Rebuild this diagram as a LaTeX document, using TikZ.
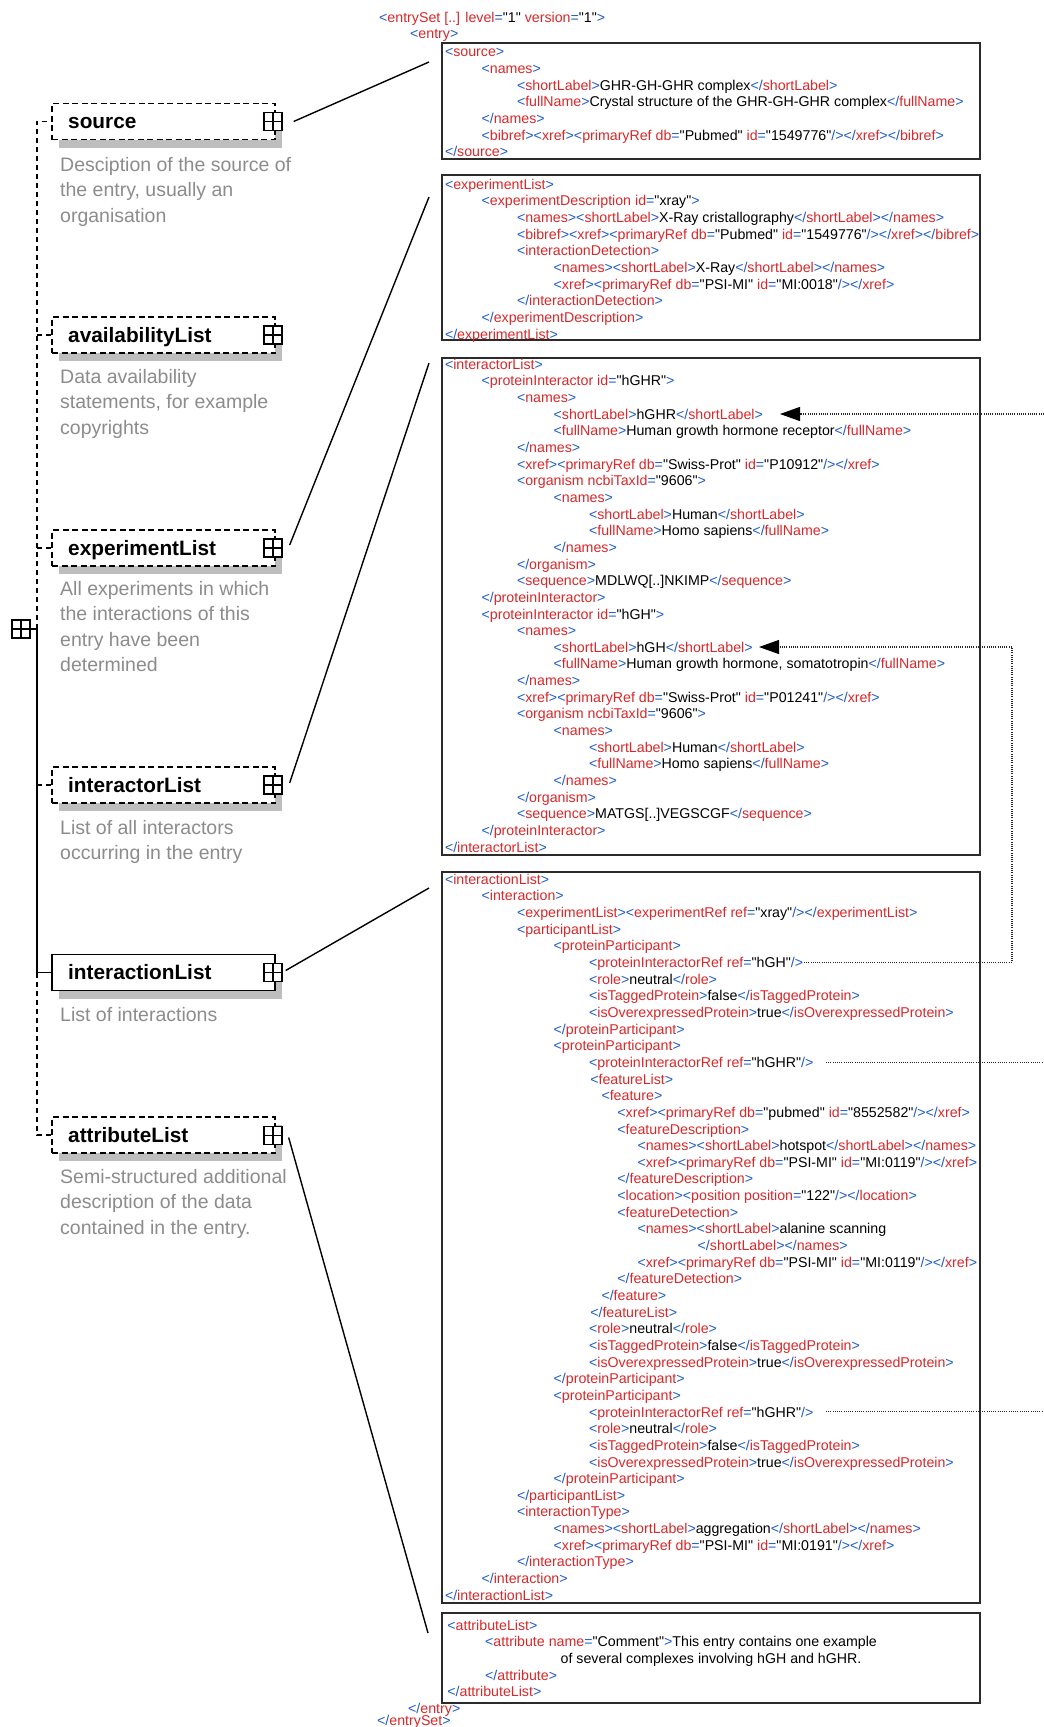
\documentclass[tikz,border=0pt]{standalone}
\usepackage{fontspec}
\newfontfamily\xfont{Liberation Sans}
\usetikzlibrary{arrows.meta,calc}
\definecolor{xb}{HTML}{1F5CC8}
\definecolor{xr}{HTML}{D8282A}
\definecolor{descgray}{HTML}{8C8C8C}
\definecolor{shgray}{HTML}{BEBEBE}
\definecolor{boxline}{HTML}{2B2B2B}
\newcommand\xlt{\textcolor{xb}{<}}
\newcommand\xgt{\textcolor{xb}{>}}
\newcommand\xo[1]{\xlt\textcolor{xr}{#1}\xgt}
\newcommand\xc[1]{\textcolor{xb}{</}\textcolor{xr}{#1}\xgt}
\newcommand\xs[1]{\xlt\textcolor{xr}{#1}}
\newcommand\xa[2]{\space\textcolor{xr}{#1}\textcolor{xb}{=}"#2"}
\newcommand\xe{\textcolor{xb}{/>}}
\newcommand\xl[2]{\hspace*{#1pt}\strut #2}
\begin{document}
\begin{tikzpicture}[x=1pt,y=-1pt,
  xmlbox/.style={draw=boxline, line width=1.9, inner sep=0, minimum width=537.4},
  xtxt/.style={anchor=north west, inner sep=0, align=left, font=\xfont\fontsize{14.2}{16.65}\selectfont},
  xone/.style={anchor=base west, inner sep=0, font=\xfont\fontsize{14.2}{16.65}\selectfont},
  elbox/.style={draw=black, line width=1.6, dash pattern=on 6pt off 3.5pt, fill=white, minimum width=223, minimum height=36, inner sep=0},
  elsolid/.style={draw=black, line width=1.6, fill=white, minimum width=223, minimum height=36, inner sep=0},
  ellabel/.style={anchor=base west, inner sep=0, font=\xfont\fontsize{20.8}{24}\selectfont\bfseries},
  desc/.style={anchor=north west, inner sep=0, align=left, text=descgray, font=\xfont\fontsize{19.5}{25.5}\selectfont},
  plusbox/.style={draw=black, fill=white, line width=1.3, minimum width=18, minimum height=18, inner sep=0,
    path picture={\draw[line width=1.3] (path picture bounding box.north) -- (path picture bounding box.south)
      (path picture bounding box.west) -- (path picture bounding box.east);}},
  conn/.style={line width=1.4, black},
  treedash/.style={line width=1.5, dash pattern=on 5pt off 4pt},
  treesolid/.style={line width=1.5},
  dots/.style={line width=1.1, draw=black!85, dash pattern=on 1pt off 1.2pt},
  dotarr/.style={dots, -{Triangle[length=20pt, width=14pt, color=black]}}
]
\useasboundingbox (0,0) rectangle (1044,1727);
\fill[white] (0,0) rectangle (1044,1727);

% ---------- left schema tree ----------
\foreach \c in {121.5,335,548,785,972.5,1135} \fill[shgray] (59,\c-10) rectangle (282,\c+26);
\node[elbox] (srcel) at (163.5,121.5) {};
\node[elbox] (avel) at (163.5,335) {};
\node[elbox] (expel) at (163.5,548) {};
\node[elbox] (intrel) at (163.5,785) {};
\node[elsolid] (intnel) at (163.5,972.5) {};
\node[elbox] (attrel) at (163.5,1135) {};

\node[ellabel] (srclab) at (68,128.5) {source};
\node[ellabel] (avlab) at (68,342) {availabilityList};
\node[ellabel] (explab) at (68,555) {experimentList};
\node[ellabel] (intrlab) at (68,792) {interactorList};
\node[ellabel] (intnlab) at (68,979.5) {interactionList};
\node[ellabel] (attrlab) at (68,1142) {attributeList};

\node[plusbox] (srcico) at (273,121.5) {};
\node[plusbox] (avico) at (273,335) {};
\node[plusbox] (expico) at (273,548) {};
\node[plusbox] (intrico) at (273,785) {};
\node[plusbox] (intnico) at (273,972.5) {};
\node[plusbox] (attrico) at (273,1135.5) {};

\node[plusbox] (root) at (21,629) {};
\coordinate (j0) at (37,629);
\draw[treesolid] (root.east) -- (j0);
\draw[treedash] (j0) -- (j0 |- srcel.west) -- (srcel.west);
\draw[treedash] (j0 |- avel.west) -- (avel.west);
\draw[treedash] (j0 |- expel.west) -- (expel.west);
\draw[treedash] (j0 |- intrel.west) -- (intrel.west);
\draw[treesolid] (j0) -- (j0 |- intnel.west) -- (intnel.west);
\draw[treedash] (j0 |- intnel.west) -- (j0 |- attrel.west) -- (attrel.west);

\node[desc] (srcdesc) at (60,153.15) {\strut Desciption of the source of\\ \strut the entry, usually an\\ \strut organisation};
\node[desc] (avdesc) at (60,365.15) {\strut Data availability\\ \strut statements, for example\\ \strut copyrights};
\node[desc] (expdesc) at (60,577.15) {\strut All experiments in which\\ \strut the interactions of this\\ \strut entry have been\\ \strut determined};
\node[desc] (intrdesc) at (60,816.15) {\strut List of all interactors\\ \strut occurring in the entry};
\node[desc] (intndesc) at (60,1003.15) {\strut List of interactions};
\node[desc] (attrdesc) at (60,1165.15) {\strut Semi-structured additional\\ \strut description of the data\\ \strut contained in the entry.};

% ---------- XML boxes ----------
\node[xmlbox, minimum height=116] (srcx) at (711.1,101) {};
\node[xmlbox, minimum height=165] (expx) at (711.1,257.5) {};
\node[xmlbox, minimum height=497] (intrx) at (711.1,606.5) {};
\node[xmlbox, minimum height=731] (intnx) at (711.1,1237.5) {};
\node[xmlbox, minimum height=90] (attrx) at (711.1,1658) {};

\node[xone] (eset) at (379,22.1) {\xs{entrySet [..]}\xa{level}{1}\xa{version}{1}\xgt};
\node[xone] (eopen) at (410,38.1) {\xo{entry}};
\node[xone] (eclose) at (408,1713) {\xc{entry}};
\node[xone] (esclose) at (377,1725) {\xc{entrySet}};

\node[xtxt] (srctxt) at (444.8,44.9) {%
\xl{0}{\xo{source}}\\
\xl{36.6}{\xo{names}}\\
\xl{72}{\xo{shortLabel}GHR-GH-GHR complex\xc{shortLabel}}\\
\xl{72}{\xo{fullName}Crystal structure of the GHR-GH-GHR complex\xc{fullName}}\\
\xl{36.6}{\xc{names}}\\
\xl{36.6}{\xo{bibref}\xo{xref}\xs{primaryRef}\xa{db}{Pubmed}\xa{id}{1549776}\xe\xc{xref}\xc{bibref}}\\
\xl{0}{\xc{source}}};

\node[xtxt] (exptxt) at (444.8,177.4) {%
\xl{0}{\xo{experimentList}}\\
\xl{36.6}{\xs{experimentDescription}\xa{id}{xray}\xgt}\\
\xl{72}{\xo{names}\xo{shortLabel}X-Ray cristallography\xc{shortLabel}\xc{names}}\\
\xl{72}{\xo{bibref}\xo{xref}\xs{primaryRef}\xa{db}{Pubmed}\xa{id}{1549776}\xe\xc{xref}\xc{bibref}}\\
\xl{72}{\xo{interactionDetection}}\\
\xl{108.7}{\xo{names}\xo{shortLabel}X-Ray\xc{shortLabel}\xc{names}}\\
\xl{108.7}{\xo{xref}\xs{primaryRef}\xa{db}{PSI-MI}\xa{id}{MI:0018}\xe\xc{xref}}\\
\xl{72}{\xc{interactionDetection}}\\
\xl{36.6}{\xc{experimentDescription}}\\
\xl{0}{\xc{experimentList}}};

\node[xtxt] (intrtxt) at (444.8,357.4) {%
\xl{0}{\xo{interactorList}}\\
\xl{36.6}{\xs{proteinInteractor}\xa{id}{hGHR}\xgt}\\
\xl{72}{\xo{names}}\\
\xl{108.7}{\xo{shortLabel}hGHR\xc{shortLabel}}\\
\xl{108.7}{\xo{fullName}Human growth hormone receptor\xc{fullName}}\\
\xl{72}{\xc{names}}\\
\xl{72}{\xo{xref}\xs{primaryRef}\xa{db}{Swiss-Prot}\xa{id}{P10912}\xe\xc{xref}}\\
\xl{72}{\xs{organism ncbiTaxId}\textcolor{xb}{=}"9606"\xgt}\\
\xl{108.7}{\xo{names}}\\
\xl{144.1}{\xo{shortLabel}Human\xc{shortLabel}}\\
\xl{144.1}{\xo{fullName}Homo sapiens\xc{fullName}}\\
\xl{108.7}{\xc{names}}\\
\xl{72}{\xc{organism}}\\
\xl{72}{\xo{sequence}MDLWQ[..]NKIMP\xc{sequence}}\\
\xl{36.6}{\xc{proteinInteractor}}\\
\xl{36.6}{\xs{proteinInteractor}\xa{id}{hGH}\xgt}\\
\xl{72}{\xo{names}}\\
\xl{108.7}{\xo{shortLabel}hGH\xc{shortLabel}}\\
\xl{108.7}{\xo{fullName}Human growth hormone, somatotropin\xc{fullName}}\\
\xl{72}{\xc{names}}\\
\xl{72}{\xo{xref}\xs{primaryRef}\xa{db}{Swiss-Prot}\xa{id}{P01241}\xe\xc{xref}}\\
\xl{72}{\xs{organism ncbiTaxId}\textcolor{xb}{=}"9606"\xgt}\\
\xl{108.7}{\xo{names}}\\
\xl{144.1}{\xo{shortLabel}Human\xc{shortLabel}}\\
\xl{144.1}{\xo{fullName}Homo sapiens\xc{fullName}}\\
\xl{108.7}{\xc{names}}\\
\xl{72}{\xc{organism}}\\
\xl{72}{\xo{sequence}MATGS[..]VEGSCGF\xc{sequence}}\\
\xl{36.6}{\xc{proteinInteractor}}\\
\xl{0}{\xc{interactorList}}};

\node[xtxt] (intntxt) at (444.8,872.4) {%
\xl{0}{\xo{interactionList}}\\
\xl{36.6}{\xo{interaction}}\\
\xl{72}{\xo{experimentList}\xs{experimentRef}\xa{ref}{xray}\xe\xc{experimentList}}\\
\xl{72}{\xo{participantList}}\\
\xl{108.7}{\xo{proteinParticipant}}\\
\xl{144.1}{\xs{proteinInteractorRef}\xa{ref}{hGH}\xe}\\
\xl{144.1}{\xo{role}neutral\xc{role}}\\
\xl{144.1}{\xo{isTaggedProtein}false\xc{isTaggedProtein}}\\
\xl{144.1}{\xo{isOverexpressedProtein}true\xc{isOverexpressedProtein}}\\
\xl{108.7}{\xc{proteinParticipant}}\\
\xl{108.7}{\xo{proteinParticipant}}\\
\xl{144.1}{\xs{proteinInteractorRef}\xa{ref}{hGHR}\xe}\\
\xl{145.3}{\xo{featureList}}\\
\xl{156.5}{\xo{feature}}\\
\xl{172.4}{\xo{xref}\xs{primaryRef}\xa{db}{pubmed}\xa{id}{8552582}\xe\xc{xref}}\\
\xl{172.4}{\xo{featureDescription}}\\
\xl{192.5}{\xo{names}\xo{shortLabel}hotspot\xc{shortLabel}\xc{names}}\\
\xl{192.5}{\xo{xref}\xs{primaryRef}\xa{db}{PSI-MI}\xa{id}{MI:0119}\xe\xc{xref}}\\
\xl{172.4}{\xc{featureDescription}}\\
\xl{172.4}{\xo{location}\xs{position}\xa{position}{122}\xe\xc{location}}\\
\xl{172.4}{\xo{featureDetection}}\\
\xl{192.5}{\xo{names}\xo{shortLabel}alanine scanning}\\
\xl{252.7}{\xc{shortLabel}\xc{names}}\\
\xl{192.5}{\xo{xref}\xs{primaryRef}\xa{db}{PSI-MI}\xa{id}{MI:0119}\xe\xc{xref}}\\
\xl{172.4}{\xc{featureDetection}}\\
\xl{156.5}{\xc{feature}}\\
\xl{145.3}{\xc{featureList}}\\
\xl{144.1}{\xo{role}neutral\xc{role}}\\
\xl{144.1}{\xo{isTaggedProtein}false\xc{isTaggedProtein}}\\
\xl{144.1}{\xo{isOverexpressedProtein}true\xc{isOverexpressedProtein}}\\
\xl{108.7}{\xc{proteinParticipant}}\\
\xl{108.7}{\xo{proteinParticipant}}\\
\xl{144.1}{\xs{proteinInteractorRef}\xa{ref}{hGHR}\xe}\\
\xl{144.1}{\xo{role}neutral\xc{role}}\\
\xl{144.1}{\xo{isTaggedProtein}false\xc{isTaggedProtein}}\\
\xl{144.1}{\xo{isOverexpressedProtein}true\xc{isOverexpressedProtein}}\\
\xl{108.7}{\xc{proteinParticipant}}\\
\xl{72}{\xc{participantList}}\\
\xl{72}{\xo{interactionType}}\\
\xl{108.7}{\xo{names}\xo{shortLabel}aggregation\xc{shortLabel}\xc{names}}\\
\xl{108.7}{\xo{xref}\xs{primaryRef}\xa{db}{PSI-MI}\xa{id}{MI:0191}\xe\xc{xref}}\\
\xl{72}{\xc{interactionType}}\\
\xl{36.6}{\xc{interaction}}\\
\xl{0}{\xc{interactionList}}};

\node[xtxt] (attrtxt) at (444.8,1618.4) {%
\xl{2.4}{\xo{attributeList}}\\
\xl{40.2}{\xs{attribute}\xa{name}{Comment}\xgt This entry contains one example}\\
\xl{115.7}{of several complexes involving hGH and hGHR.}\\
\xl{40.2}{\xc{attribute}}\\
\xl{2.4}{\xc{attributeList}}};

% ---------- connectors from schema to XML ----------
\coordinate (srcend) at (429,62);
\coordinate (expend) at (429,197);
\coordinate (intrend) at (429,363);
\coordinate (intnend) at (429,888);
\coordinate (attrend) at (428,1633);
\draw[conn] ($(srcico.east)+(11,0)$) -- (srcend);
\draw[conn] ($(expico.east)+(7,-3)$) -- (expend);
\draw[conn] ($(intrico.east)+(7,-2)$) -- (intrend);
\draw[conn] ($(intnico.east)+(3,-2)$) -- (intnend);
\draw[conn] ($(attrico.east)+(6,2)$) -- (attrend);

% ---------- dotted reference arrows ----------
\coordinate (hghrtip) at (780,414);
\coordinate (hghredge) at (1044,414);
\draw[dotarr] (hghredge) -- (hghrtip);
\coordinate (hghtip) at (759,647);
\coordinate (hghref) at (804,962.3);
\coordinate (hghbend) at (1012,962.3);
\draw[dotarr] (hghref) -- (hghbend) |- (hghtip);
\coordinate (hghrA) at (826,1062.2);
\coordinate (hghrAe) at (1044,1062.2);
\draw[dots] (hghrA) -- (hghrAe);
\coordinate (hghrB) at (826,1411.8);
\coordinate (hghrBe) at (1044,1411.8);
\draw[dots] (hghrB) -- (hghrBe);
\end{tikzpicture}
\end{document}
